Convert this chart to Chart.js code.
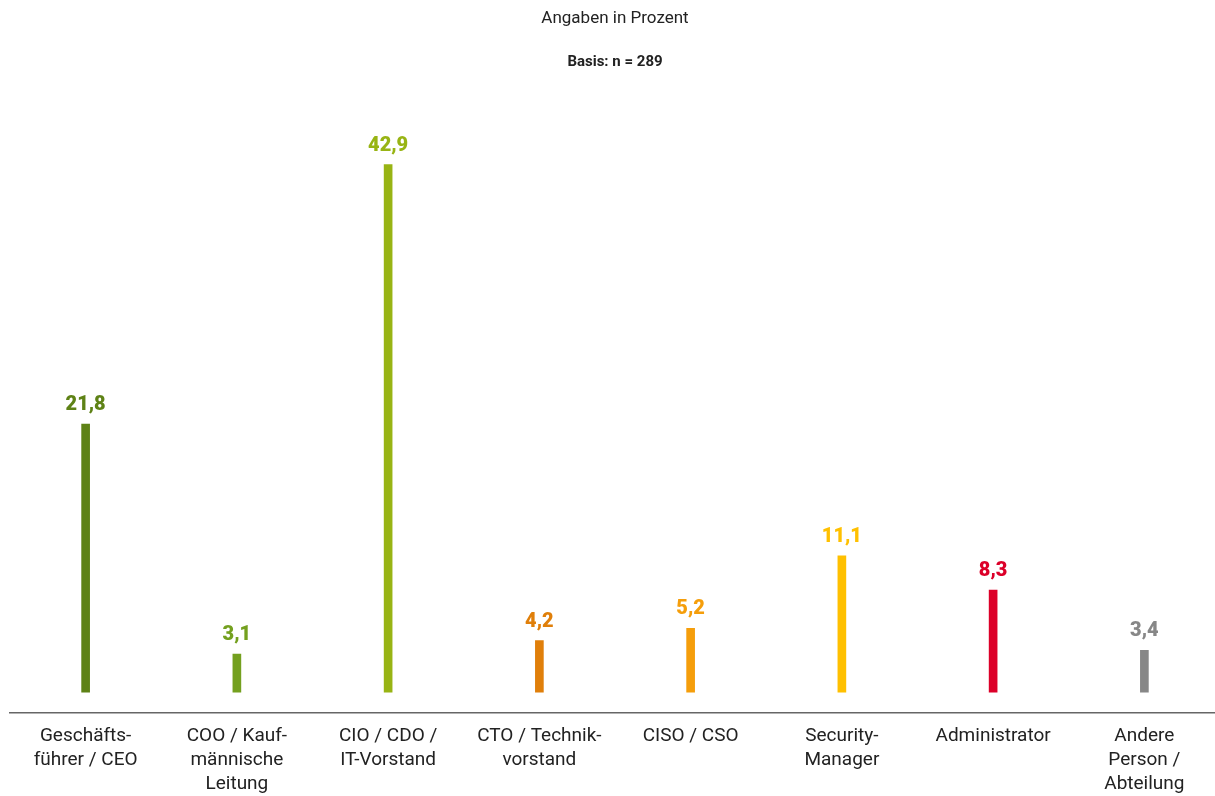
<!DOCTYPE html>
<html>
<head>
<meta charset="utf-8">
<script src="https://cdn.jsdelivr.net/npm/chart.js@4/dist/chart.umd.min.js"></script>
<style>
  html, body { margin: 0; padding: 0; background: #fff; overflow: hidden; }
  #wrap { width: 1220px; height: 796px; }
</style>
</head>
<body>
<div id="wrap"><canvas id="myChart"></canvas></div>
<script>
// Wer verantwortet das Thema? (Angaben in Prozent)
const categories = [
    ["Geschäfts-", "führer / CEO"],
    ["COO / Kauf-", "männische", "Leitung"],
    ["CIO / CDO /", "IT-Vorstand"],
    ["CTO / Technik-", "vorstand"],
    ["CISO / CSO"],
    ["Security-", "Manager"],
    ["Administrator"],
    ["Andere", "Person /", "Abteilung"]
];
const values = [21.8, 3.1, 42.9, 4.2, 5.2, 11.1, 8.3, 3.4];
const barColors = ["#5e8216", "#74a01f", "#98b414", "#e07f0a", "#f59e0b", "#ffc000", "#dc0029", "#878787"];

// draws the value above each bar, German decimal comma
const valueLabels = {
    id: 'valueLabels',
    afterDatasetsDraw(chart) {
        const ctx = chart.ctx;
        const meta = chart.getDatasetMeta(0);
        ctx.save();
        ctx.font = '900 20px Roboto';
        ctx.textAlign = 'center';
        ctx.textBaseline = 'alphabetic';
        meta.data.forEach((bar, i) => {
            ctx.fillStyle = barColors[i];
            ctx.fillText(values[i].toFixed(1).replace('.', ','), bar.x, bar.y - 14);
        });
        ctx.restore();
    }
};

const ctx = document.getElementById('myChart').getContext('2d');
const myChart = new Chart(ctx, {
    type: 'bar',
    data: {
        labels: categories,
        datasets: [{
            data: values,
            backgroundColor: barColors,
            barThickness: 8
        }]
    },
    options: {
        responsive: true,
        maintainAspectRatio: false,
        animation: false,
        layout: { padding: { left: 10, right: 0, top: 0, bottom: -11 } },
        plugins: {
            legend: { display: false },
            tooltip: { enabled: false },
            title: {
                display: true,
                text: 'Angaben in Prozent',
                color: '#222',
                font: { family: 'Roboto', size: 17, weight: 'normal' },
                padding: { top: 9, bottom: 24 }
            },
            subtitle: {
                display: true,
                text: 'Basis: n = 289',
                color: '#222',
                font: { family: 'Roboto', size: 15, weight: 'bold' },
                padding: { top: 0, bottom: 52.6 }
            }
        },
        scales: {
            x: {
                grid: { display: false, drawTicks: false },
                border: { display: true, color: '#666', width: 1.5 },
                ticks: {
                    autoSkip: false,
                    maxRotation: 0,
                    padding: 11,
                    color: '#222',
                    font: { family: 'Roboto', size: 19, lineHeight: 1.26 }
                }
            },
            y: {
                display: false,
                min: -1.7,
                max: 46.2
            }
        }
    },
    plugins: [valueLabels]
});
</script>
</body>
</html>
